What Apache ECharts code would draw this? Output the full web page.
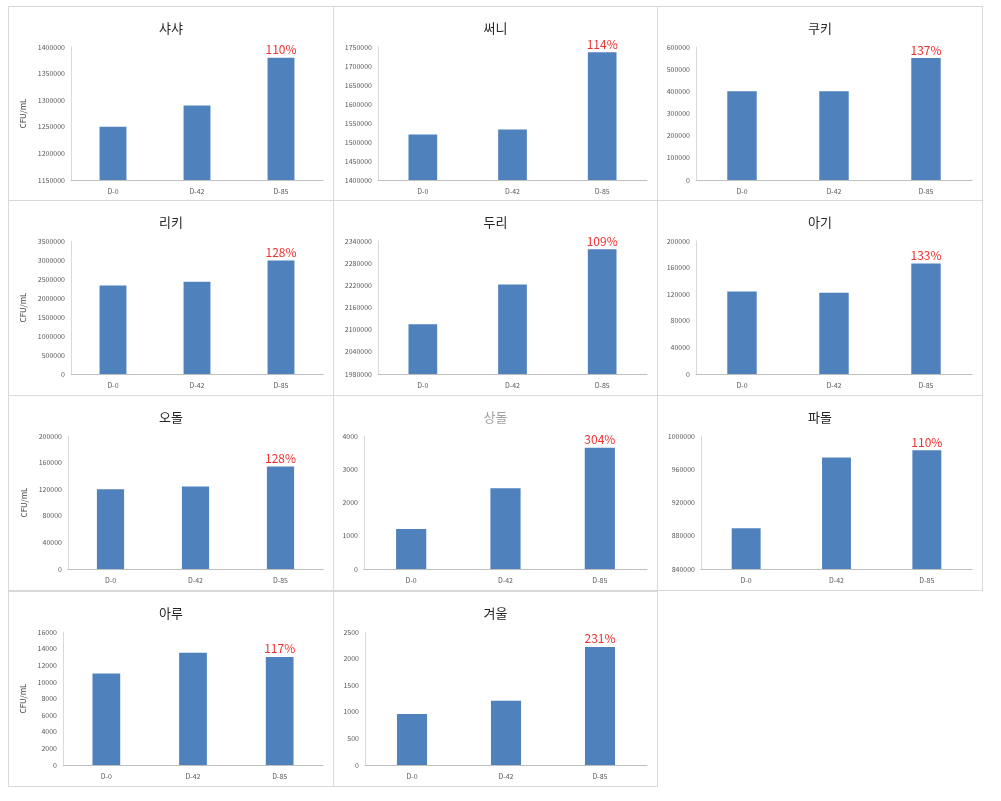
<!DOCTYPE html>
<html>
<head>
<meta charset="utf-8">
<script src="https://cdn.jsdelivr.net/npm/echarts@6/dist/echarts.min.js"></script>
<style>
  html, body { margin: 0; padding: 0; background: #fff; }
  #wrap { position: relative; width: 1001px; height: 801px; }
  .panel {
    position: absolute;
    box-sizing: border-box;
    border: 1px solid #d9d9d9;
    background: #fff;
  }
</style>
</head>
<body>
<div id="wrap"></div>
<script>
const categories = ['D-0', 'D-42', 'D-85']
const titles = ['샤샤', '써니', '쿠키', '리키', '두리', '아기', '오돌', '상돌', '파돌', '아루', '겨울']

// CFU/mL readings per dog
const sasha = [1250000, 1290000, 1380000]
const sunny = [1520000, 1533000, 1736000]
const cookie = [400000, 400000, 550000]
const ricky = [2330000, 2430000, 2990000]
const duri = [2115000, 2222000, 2318000]
const agi = [124000, 122000, 166000]
const odol = [120000, 124000, 154000]
const sangdol = [1200, 2430, 3650]
const padol = [889000, 974000, 983000]
const aru = [11000, 13500, 13000]
const winter = [960, 1210, 2220]

const growth = ['110%', '114%', '137%', '128%', '109%', '133%', '128%', '304%', '110%', '117%', '231%']

// y axis ticks: min, max, step
const yMin = [1150000, 1400000, 0, 0, 1980000, 0, 0, 0, 840000, 0, 0]
const yMax = [1400000, 1750000, 600000, 3500000, 2340000, 200000, 200000, 4000, 1000000, 16000, 2500]
const yStep = [50000, 50000, 100000, 500000, 60000, 40000, 40000, 1000, 40000, 2000, 500]

const unitShown = [true, false, false, true, false, false, true, false, false, true, false]

const seriesValues = [sasha, sunny, cookie, ricky, duri, agi, odol, sangdol, padol, aru, winter]

const colX = [8, 333, 657]
const colW = [326, 325, 326]
const rowY = [6, 200, 395, 591]
const panelH = 196
const gridLeft = [62, 44, 38, 62, 44, 38, 59, 30, 43, 54, 31]

const font = '"Noto Sans CJK KR", "Noto Sans", sans-serif'
const wrap = document.getElementById('wrap')

seriesValues.forEach((values, i) => {
  const col = i % 3
  const row = Math.floor(i / 3)
  const el = document.createElement('div')
  el.className = 'panel'
  el.style.left = colX[col] + 'px'
  el.style.top = rowY[row] + 'px'
  el.style.width = colW[col] + 'px'
  el.style.height = panelH + 'px'
  wrap.appendChild(el)

  const chart = echarts.init(el, null, { renderer: 'canvas' })
  chart.setOption({
    animation: false,
    title: {
      text: titles[i],
      left: 'center',
      top: 10,
      textStyle: {
        fontFamily: font,
        fontSize: 13,
        fontWeight: 'normal',
        color: i === 7 ? '#a0a0a0' : '#262626'
      }
    },
    grid: { left: gridLeft[i], right: 10, top: 40, bottom: 21 },
    xAxis: {
      type: 'category',
      data: categories,
      axisLine: { lineStyle: { color: '#bfbfbf' } },
      axisTick: { show: false },
      axisLabel: { fontFamily: font, fontSize: 7, color: '#595959', margin: 8 }
    },
    yAxis: {
      type: 'value',
      min: yMin[i],
      max: yMax[i],
      interval: yStep[i],
      name: unitShown[i] ? 'CFU/mL' : '',
      nameLocation: 'middle',
      nameGap: 34,
      nameTextStyle: { fontFamily: font, fontSize: 8, color: '#404040' },
      axisLine: { show: true, lineStyle: { color: '#d9d9d9' } },
      axisTick: { show: false },
      splitLine: { show: false },
      axisLabel: {
        fontFamily: font,
        fontSize: 7,
        color: '#595959',
        margin: 6,
        formatter: (v) => String(v)
      }
    },
    series: [
      {
        type: 'bar',
        barWidth: '32%',
        itemStyle: { color: '#4f81bd' },
        data: values.map((v, k) => (k === values.length - 1
          ? { value: v, label: { show: true } }
          : v)),
        label: {
          show: false,
          position: 'top',
          distance: 2,
          fontFamily: font,
          fontSize: 12,
          color: '#f03030',
          formatter: () => growth[i]
        }
      }
    ]
  })
})
</script>
</body>
</html>
